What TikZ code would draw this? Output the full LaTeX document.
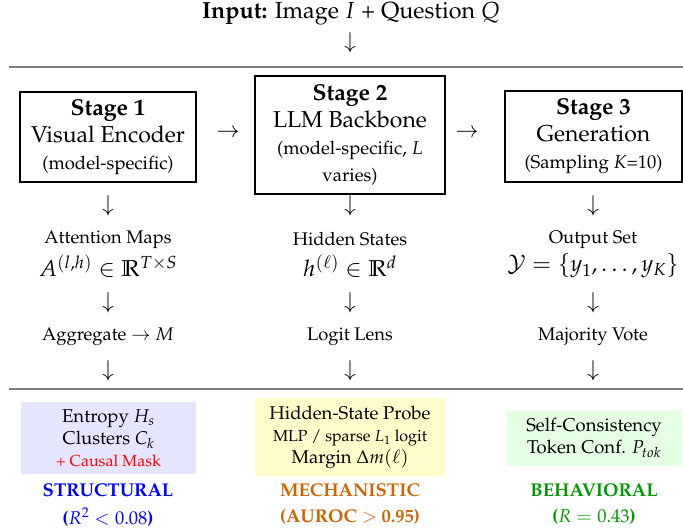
\RequirePackage{fix-cm}
\documentclass[tikz,border=0pt]{standalone}
\usepackage[T1]{fontenc}
\usepackage{amsmath,amssymb}
\usepackage{mathpazo}
\begin{document}
\begin{tikzpicture}[x=1pt,y=-1pt,
  fs/.style={font=\fontsize{#1}{#1}\selectfont},
  stagebox/.style={draw, line width=1.2pt, align=center, inner sep=0pt,
    font=\fontsize{23}{27}\selectfont},
  txt/.style={inner sep=0pt, align=center},
  resbox/.style={inner sep=0pt, align=center, font=\fontsize{18.5}{22}\selectfont},
  arr/.style={inner sep=0pt, font=\fontsize{22}{22}\selectfont},
  rulel/.style={draw=black!50, line width=2pt},
  lab/.style={inner sep=0pt, font=\fontsize{18.5}{18.5}\selectfont\bfseries}
]
\useasboundingbox (0,0) rectangle (683,529);

% title
\node[txt, fs=23.3] (title) at (351,14) {\textbf{Input:} Image $I$ + Question $Q$};
\node[arr] (a0) at (350,43) {$\downarrow$};

\coordinate (r1l) at (9,67);
\coordinate (r1r) at (683,67);
\draw[rulel] (r1l) -- (r1r);

% stage boxes
\node[stagebox, minimum width=176pt, minimum height=90pt] (s1) at (108,137)
  {\textbf{Stage 1}\\Visual Encoder\\{\fontsize{18.5}{18.5}\selectfont (model-specific)}};
\node[stagebox, minimum width=190pt, minimum height=118pt] (s2) at (350,135)
  {\textbf{Stage 2}\\LLM Backbone\\{\fontsize{18.5}{18.5}\selectfont (model-specific, $L$}\\{\fontsize{18.5}{18.5}\selectfont varies)}};
\node[stagebox, minimum width=177pt, minimum height=91pt] (s3) at (593.5,136.5)
  {\textbf{Stage 3}\\Generation\\{\fontsize{18.5}{18.5}\selectfont (Sampling $K$=10)}};

\node[arr] (h1) at (228,133) {$\rightarrow$};
\node[arr] (h2) at (467,133) {$\rightarrow$};

% column 1
\node[arr] (d11) at (108,206) {$\downarrow$};
\node[txt, fs=18.3] (am) at (108,239.5) {Attention Maps};
\node[txt, fs=23] (amf) at (108,266) {$A^{(l,h)}\in\mathbb{R}^{T\times S}$};
\node[arr] (d12) at (108,303) {$\downarrow$};
\node[txt, fs=18.3] (ag) at (108,337) {Aggregate $\rightarrow$ $M$};
\node[arr] (d13) at (108,371) {$\downarrow$};

% column 2
\node[arr] (d21) at (350,206) {$\downarrow$};
\node[txt, fs=18.3] (hs) at (350,239.5) {Hidden States};
\node[txt, fs=23] (hsf) at (350,266) {$h^{(\ell)}\in\mathbb{R}^{d}$};
\node[arr] (d22) at (350,303) {$\downarrow$};
\node[txt, fs=18.3] (ll) at (350,337) {Logit Lens};
\node[arr] (d23) at (350,371) {$\downarrow$};

% column 3
\node[arr] (d31) at (593,206) {$\downarrow$};
\node[txt, fs=18.3] (os) at (593,239.5) {Output Set};
\node[txt, fs=23] (osf) at (593,266) {$\mathcal{Y}=\{y_1,\ldots,y_K\}$};
\node[arr] (d32) at (593,303) {$\downarrow$};
\node[txt, fs=18.3] (mv) at (593,337) {Majority Vote};
\node[arr] (d33) at (593,371) {$\downarrow$};

\coordinate (r2l) at (9,389);
\coordinate (r2r) at (683,389);
\draw[rulel] (r2l) -- (r2r);

% result boxes
\node[resbox, fill=blue!10, minimum width=175pt, minimum height=72pt] (b1) at (108.5,438)
  {Entropy $H_s$\\Clusters $C_k$\\{\color{red}\fontsize{16}{16}\selectfont + Causal Mask}};
\node[resbox, fill=yellow!20, minimum width=190pt, minimum height=78pt] (b2) at (350,437)
  {Hidden-State Probe\\{\fontsize{16}{16}\selectfont MLP / sparse $L_1$ logit}\\Margin $\Delta m(\ell)$};
\node[resbox, fill=green!10, minimum width=176pt, minimum height=55pt] (b3) at (594,438)
  {Self-Consistency\\Token Conf. $P_{tok}$};

\node[lab, text=blue] (l1) at (108,490) {STRUCTURAL};
\node[lab, text=blue] (v1) at (108,517) {($R^2<0.08$)};
\node[lab, text=orange!80!black] (l2) at (350,490) {MECHANISTIC};
\node[lab, text=orange!80!black] (v2) at (350,517) {(AUROC $>$ 0.95)};
\node[lab, text=green!60!black] (l3) at (594,490) {BEHAVIORAL};
\node[lab, text=green!60!black] (v3) at (594,517) {($R=0.43$)};
\end{tikzpicture}
\end{document}
